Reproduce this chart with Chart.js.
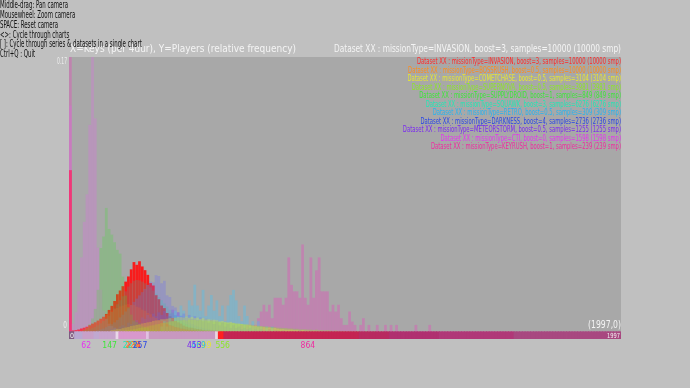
<!DOCTYPE html>
<html>
<head>
<meta charset="utf-8">
<script src="https://cdn.jsdelivr.net/npm/chart.js@4.4.1/dist/chart.umd.min.js"></script>
<style>
  html, body { margin: 0; padding: 0; background: #c0c0c0; }
  #wrap { width: 690px; height: 388px; position: relative; }
</style>
</head>
<body>
<div id="wrap"><canvas id="chart"></canvas></div>
<script>
var binWidth = 10;
var keyMax = 1997;
var yTop = 0.17;

var missionTypes = ['INVASION', 'BOSSRUSH', 'COMETCHASE', 'SUPERNOVA', 'SUPPLYDROID', 'SQUAWK', 'RETRO', 'DARKNESS', 'METEORSTORM', 'CTI', 'KEYRUSH'];
var boosts = ['3', '0.5', '0.5', '0.5', '1', '3', '0.5', '4', '0.5', '0', '1'];
var sampleCounts = [10000, 10000, 3104, 3981, 849, 6276, 309, 2736, 1255, 1598, 239];
var meanKeys = [234, 229, 489, 556, 147, 221, 469, 257, 453, 62, 864];

// share of players in the 0-key bin, same order as missionTypes
var zeroBinFreq = [0.100, 0, 0, 0, 0, 0, 0, 0, 0, 0.140, 0.200];

// each series: first key of its first bin, then one value per 10-key bin
var invasionFrom = 10;
var invasionFreq = [0.0008, 0.0010, 0.0014, 0.0020, 0.0025, 0.0031, 0.0040, 0.0050, 0.0058, 0.0068,
    0.0080, 0.0092, 0.0110, 0.0135, 0.0160, 0.0190, 0.0232, 0.0255, 0.0282, 0.0310,
    0.0342, 0.0386, 0.0431, 0.0414, 0.0436, 0.0404, 0.0381, 0.0352, 0.0301, 0.0286,
    0.0226, 0.0201, 0.0162, 0.0146, 0.0116, 0.0096, 0.0085, 0.0066, 0.0058, 0.0050,
    0.0038, 0.0031, 0.0026, 0.0024, 0.0020, 0.0017, 0.0014, 0.0011, 0.0009, 0.0008,
    0.0007, 0.0006, 0.0005, 0.0004, 0.0004, 0.0003, 0.0003, 0.0002, 0.0002, 0.0002];

var bossrushFrom = 30;
var bossrushFreq = [0.0006, 0.0012, 0.0019, 0.0028, 0.0037, 0.0048, 0.0058, 0.0071, 0.0081, 0.0094,
    0.0104, 0.0118, 0.0127, 0.0140, 0.0147, 0.0157, 0.0162, 0.0168, 0.0171, 0.0167,
    0.0165, 0.0155, 0.0150, 0.0137, 0.0130, 0.0116, 0.0108, 0.0094, 0.0085, 0.0073,
    0.0066, 0.0055, 0.0049, 0.0041, 0.0036, 0.0029, 0.0026, 0.0020, 0.0018, 0.0014,
    0.0012, 0.0009, 0.0008, 0.0006, 0.0005, 0.0004, 0.0003, 0.0002];

var cometchaseFrom = 150;
var cometchaseFreq = [0.0010, 0.0013, 0.0016, 0.0016, 0.0022, 0.0026, 0.0029, 0.0035, 0.0038, 0.0042,
    0.0045, 0.0051, 0.0054, 0.0058, 0.0061, 0.0067, 0.0070, 0.0071, 0.0077, 0.0077,
    0.0080, 0.0084, 0.0084, 0.0087, 0.0090, 0.0090, 0.0087, 0.0093, 0.0087, 0.0090,
    0.0084, 0.0087, 0.0080, 0.0084, 0.0077, 0.0077, 0.0074, 0.0074, 0.0071, 0.0064,
    0.0067, 0.0061, 0.0058, 0.0061, 0.0055, 0.0051, 0.0051, 0.0048, 0.0045, 0.0045,
    0.0039, 0.0038, 0.0038, 0.0032, 0.0032, 0.0029, 0.0026, 0.0026, 0.0022, 0.0023,
    0.0019, 0.0016, 0.0016, 0.0013, 0.0013, 0.0013, 0.0010, 0.0010, 0.0006, 0.0010,
    0.0006, 0.0006, 0.0003, 0.0006, 0.0003, 0.0003];

var supernovaFrom = 200;
var supernovaFreq = [0.0008, 0.0010, 0.0013, 0.0015, 0.0018, 0.0023, 0.0025, 0.0030, 0.0033, 0.0038,
    0.0040, 0.0045, 0.0048, 0.0053, 0.0055, 0.0058, 0.0063, 0.0065, 0.0068, 0.0070,
    0.0070, 0.0073, 0.0070, 0.0075, 0.0073, 0.0073, 0.0070, 0.0073, 0.0068, 0.0070,
    0.0065, 0.0068, 0.0063, 0.0063, 0.0060, 0.0058, 0.0058, 0.0055, 0.0053, 0.0053,
    0.0050, 0.0048, 0.0048, 0.0045, 0.0043, 0.0043, 0.0040, 0.0038, 0.0038, 0.0035,
    0.0033, 0.0033, 0.0030, 0.0030, 0.0028, 0.0025, 0.0025, 0.0023, 0.0023, 0.0020,
    0.0020, 0.0018, 0.0018, 0.0015, 0.0015, 0.0015, 0.0013, 0.0013, 0.0010, 0.0013,
    0.0010, 0.0010, 0.0008, 0.0010, 0.0008, 0.0005, 0.0008, 0.0005, 0.0005, 0.0005,
    0.0003, 0.0005, 0.0003, 0.0003, 0.0003, 0.0003, 0, 0.0003, 0.0003, 0, 0.0003];

var supplydroidFrom = 50;
var supplydroidFreq = [0.0012, 0.0024, 0.0047, 0.0082, 0.0141, 0.0259, 0.0518, 0.0589, 0.0766, 0.0636,
    0.0601, 0.0554, 0.0507, 0.0483, 0.0342, 0.0224, 0.0153, 0.0106, 0.0071, 0.0059,
    0.0047, 0.0035, 0.0024, 0.0024, 0.0012, 0.0012, 0.0012, 0, 0.0012];

var squawkFrom = 50;
var squawkFreq = [0.0006, 0.0010, 0.0015, 0.0022, 0.0030, 0.0040, 0.0052, 0.0066, 0.0082, 0.0100,
    0.0122, 0.0145, 0.0170, 0.0195, 0.0220, 0.0250, 0.0280, 0.0300, 0.0315, 0.0320,
    0.0318, 0.0310, 0.0300, 0.0290, 0.0275, 0.0255, 0.0235, 0.0215, 0.0195, 0.0175,
    0.0155, 0.0135, 0.0118, 0.0100, 0.0085, 0.0070, 0.0058, 0.0047, 0.0038, 0.0030,
    0.0024, 0.0018, 0.0014, 0.0010, 0.0008, 0.0006];

var retroFrom = 330;
var retroFreq = [0.0032, 0.0065, 0.0032, 0.0097, 0.0065, 0.0130, 0.0097, 0.0162, 0.0130, 0.0097,
    0.0194, 0.0162, 0.0291, 0.0162, 0.0130, 0.0259, 0.0097, 0.0162, 0.0227, 0.0130,
    0.0194, 0.0097, 0.0162, 0.0065, 0.0162, 0.0227, 0.0259, 0.0194, 0.0097, 0.0065,
    0.0162, 0.0097, 0.0032, 0.0065, 0.0032, 0.0065, 0.0032, 0, 0.0032, 0, 0.0032];

var darknessFrom = 100;
var darknessFreq = [0.0010, 0.0015, 0.0020, 0.0028, 0.0036, 0.0046, 0.0058, 0.0072, 0.0088, 0.0105,
    0.0125, 0.0145, 0.0165, 0.0185, 0.0205, 0.0225, 0.0245, 0.0265, 0.0290, 0.0310,
    0.0305, 0.0350, 0.0345, 0.0300, 0.0315, 0.0225, 0.0215, 0.0160, 0.0150, 0.0120,
    0.0100, 0.0085, 0.0070, 0.0058, 0.0048, 0.0040, 0.0033, 0.0027, 0.0022, 0.0018,
    0.0015, 0.0012, 0.0010, 0.0008, 0.0006, 0.0005];

var meteorstormFrom = 150;
var meteorstormFreq = [0.0016, 0.0024, 0.0016, 0.0032, 0.0040, 0.0032, 0.0056, 0.0048, 0.0064, 0.0072,
    0.0056, 0.0088, 0.0080, 0.0104, 0.0088, 0.0112, 0.0096, 0.0120, 0.0104, 0.0128,
    0.0096, 0.0112, 0.0136, 0.0104, 0.0120, 0.0096, 0.0112, 0.0088, 0.0104, 0.0080,
    0.0096, 0.0072, 0.0088, 0.0064, 0.0080, 0.0056, 0.0072, 0.0048, 0.0064, 0.0040,
    0.0056, 0.0032, 0.0048, 0.0024, 0.0040, 0.0024, 0.0032, 0.0016, 0.0024, 0.0016,
    0.0024, 0.0008, 0.0016, 0.0008, 0.0016, 0.0008, 0.0008, 0.0016, 0, 0.0008,
    0.0008, 0, 0.0008];

var ctiFrom = 10;
var ctiFreq = [0.005, 0.012, 0.025, 0.046, 0.068, 0.085, 0.128, 0.200, 0.132, 0.052,
    0.026, 0.013, 0.008, 0.005, 0.0035, 0.0025, 0.002, 0.0015, 0.001, 0.001];

var keyrushFrom = 620;
var keyrushFreq = [0.0042, 0, 0.0042, 0, 0.0042, 0.0042, 0.0084, 0.0125, 0.0167, 0.0125,
    0.0167, 0.0084, 0.0210, 0.0210, 0.0210, 0.0167, 0.0210, 0.0460, 0.0290, 0.0250,
    0.0250, 0.0210, 0.0540, 0.0210, 0.0167, 0.0460, 0.0210, 0.0380, 0.0460, 0.0250,
    0.0250, 0.0250, 0.0125, 0.0167, 0.0125, 0.0167, 0.0084, 0.0042, 0.0042, 0.0125,
    0.0063, 0.0042, 0, 0.0042, 0.0084, 0, 0.0042, 0, 0, 0.0042,
    0, 0, 0.0042, 0, 0.0042, 0, 0.0042, 0, 0, 0,
    0, 0, 0, 0.0042, 0, 0, 0, 0, 0.0042];

// colour strip under the plot: key where each colour starts
var stripKeys = [0, 20, 50, 90, 110, 170, 180, 280, 290, 530, 540, 560, 1050, 1160, 1340, 1610];
var stripColors = ['#7e5a80', '#b8a8d0', '#c8a0c8', '#c0a8d0', '#c8a4cc', '#e8d8e8', '#d898cc', '#e0c0e0',
    '#c898c0', '#e8d8e0', '#ff2020', '#c42452', '#b82a60', '#b03070', '#b03878', '#a84880'];

var helpLines = ['Middle-drag: Pan camera', 'Mousewheel: Zoom camera', 'SPACE: Reset camera',
    '<>: Cycle through charts', '[ ]: Cycle through series & datasets in a single chart', 'Ctrl+Q : Quit'];
var axisCaption = 'X=Keys (per 4dur), Y=Players (relative frequency)';

var missionFrom = [invasionFrom, bossrushFrom, cometchaseFrom, supernovaFrom, supplydroidFrom, squawkFrom,
    retroFrom, darknessFrom, meteorstormFrom, ctiFrom, keyrushFrom];
var missionFreq = [invasionFreq, bossrushFreq, cometchaseFreq, supernovaFreq, supplydroidFreq, squawkFreq,
    retroFreq, darknessFreq, meteorstormFreq, ctiFreq, keyrushFreq];

var textColors = ['#ff2a2a', '#ff8c1a', '#e6e632', '#8ce628', '#3ee63a', '#22e6b4', '#26b4f0', '#2a46e6', '#7a2af0', '#e632f0', '#f02aa0'];
var barColors = ['rgba(255,16,16,0.92)', 'rgba(240,110,40,0.24)', 'rgba(232,232,48,0.32)', 'rgba(140,230,40,0.32)',
    'rgba(64,224,48,0.24)', 'rgba(32,200,170,0.2)', 'rgba(60,200,255,0.32)', 'rgba(110,110,245,0.3)',
    'rgba(130,60,240,0.3)', 'rgba(230,100,240,0.26)', 'rgba(240,60,190,0.33)'];

var FONT = "'DejaVu Sans Condensed', 'DejaVu Sans', sans-serif";
var stripFloor = -0.0045;

var legendLine = function (i) {
    return 'Dataset XX : missionType=' + missionTypes[i] + ', boost=' + boosts[i] +
        ', samples=' + sampleCounts[i] + ' (' + sampleCounts[i] + ' smp)';
};

var binPoints = function (i) {
    let pts = [];
    if (zeroBinFreq[i] > 0) pts.push({x: binWidth / 2, y: zeroBinFreq[i]});
    for (let j = 0; j < missionFreq[i].length; j++) {
        if (missionFreq[i][j] > 0)
            pts.push({x: missionFrom[i] + j * binWidth + binWidth / 2, y: missionFreq[i][j]});
    }
    return pts;
};

var datasets = [];
for (let i = 0; i < missionTypes.length; i++) {
    datasets.push({
        label: missionTypes[i],
        data: binPoints(i),
        backgroundColor: barColors[i],
        order: i === 0 ? 20 : i,
        inflateAmount: 0
    });
}

var stripData = [];
var stripFill = [];
for (let k = 0; k < 2000; k += binWidth) {
    let c = 0;
    while (c + 1 < stripKeys.length && stripKeys[c + 1] <= k) c++;
    stripData.push({x: k + binWidth / 2, y: [stripFloor, 0]});
    stripFill.push(stripColors[c]);
}
datasets.push({label: 'strip', data: stripData, backgroundColor: stripFill, order: 0, inflateAmount: 0.4});

var drawFitted = function (ctx, text, x, y, sx, align) {
    ctx.save();
    ctx.translate(x, y);
    ctx.scale(sx, 1);
    ctx.textAlign = align;
    ctx.fillText(text, 0, 0);
    ctx.restore();
};

var fitScale = function (ctx, sample, width) {
    return width / ctx.measureText(sample).width;
};

var gfxPlugin = {
    id: 'gfx',
    beforeDatasetsDraw: function (chart) {
        let ctx = chart.ctx, a = chart.chartArea;
        let zero = chart.scales.y.getPixelForValue(0);
        ctx.save();
        ctx.fillStyle = '#a8a8a8';
        ctx.fillRect(a.left, a.top, a.right - a.left, zero - a.top);
        ctx.restore();
    },
    afterDraw: function (chart) {
        let ctx = chart.ctx, a = chart.chartArea;
        let xs = chart.scales.x, ys = chart.scales.y;
        let zero = ys.getPixelForValue(0);
        let s;
        ctx.save();
        ctx.textBaseline = 'middle';

        ctx.font = '11px ' + FONT;
        ctx.fillStyle = '#f4f4f4';
        drawFitted(ctx, axisCaption, a.left + 1, a.top - 8, fitScale(ctx, axisCaption, 226), 'left');
        drawFitted(ctx, legendLine(0), a.right, a.top - 8, fitScale(ctx, legendLine(0), 287), 'right');

        ctx.font = '8px ' + FONT;
        s = fitScale(ctx, legendLine(0), 204);
        for (let i = 0; i < missionTypes.length; i++) {
            ctx.fillStyle = textColors[i];
            drawFitted(ctx, legendLine(i), a.right, a.top + 5 + i * 8.53, s, 'right');
        }

        ctx.fillStyle = '#ececec';
        ctx.font = '8px ' + FONT;
        drawFitted(ctx, '0.17', a.left - 2, ys.getPixelForValue(yTop) + 5, fitScale(ctx, '0.17', 10), 'right');
        drawFitted(ctx, '0', a.left - 2, zero - 6, 0.8, 'right');

        ctx.font = '8.5px ' + FONT;
        for (let i = 0; i < meanKeys.length; i++) {
            ctx.fillStyle = textColors[i];
            drawFitted(ctx, String(meanKeys[i]), xs.getPixelForValue(meanKeys[i]), a.bottom + 6.5, 1, 'center');
        }

        ctx.fillStyle = '#f4f4f4';
        ctx.font = '7px ' + FONT;
        drawFitted(ctx, '0', a.left + 1, a.bottom - 3, 1, 'left');
        drawFitted(ctx, String(keyMax), a.right - 1, a.bottom - 3, fitScale(ctx, String(keyMax), 13), 'right');
        ctx.font = '10px ' + FONT;
        let corner = '(' + keyMax + ',0)';
        drawFitted(ctx, corner, a.right, zero - 6, fitScale(ctx, corner, 33), 'right');

        ctx.fillStyle = '#111111';
        ctx.font = '11px ' + FONT;
        s = fitScale(ctx, helpLines[0], 68);
        for (let i = 0; i < helpLines.length; i++) {
            drawFitted(ctx, helpLines[i], 0, 5.3 + i * 9.8, s, 'left');
        }
        ctx.restore();
    }
};

new Chart(document.getElementById('chart'), {
    type: 'bar',
    data: {datasets: datasets},
    options: {
        responsive: true,
        maintainAspectRatio: false,
        animation: false,
        events: [],
        layout: {padding: {left: 69, right: 69, top: 57, bottom: 49}},
        plugins: {
            legend: {display: false},
            tooltip: {enabled: false},
            title: {display: false}
        },
        datasets: {
            bar: {grouped: false, barPercentage: 1, categoryPercentage: 1, borderWidth: 0}
        },
        scales: {
            x: {type: 'linear', min: 0, max: keyMax, offset: false, display: false, grid: {offset: false}},
            y: {type: 'linear', min: stripFloor, max: yTop, display: false}
        }
    },
    plugins: [gfxPlugin]
});
</script>
</body>
</html>
